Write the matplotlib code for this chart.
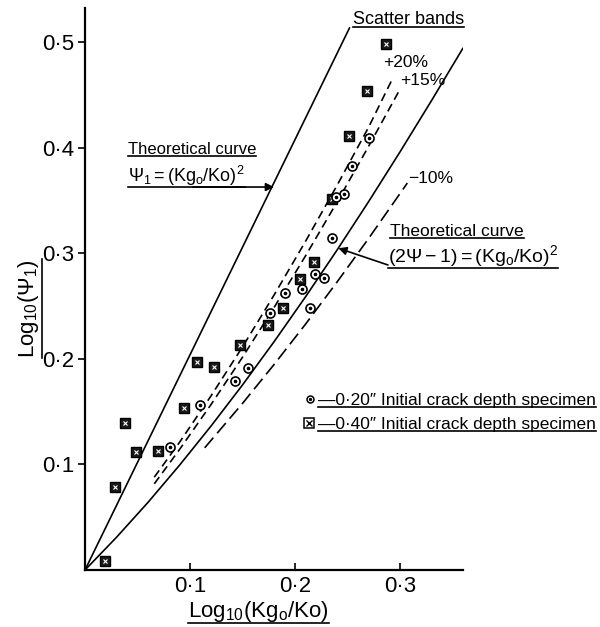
import matplotlib
matplotlib.use("Agg")
import matplotlib.pyplot as plt
from matplotlib.lines import Line2D

plt.rcParams['font.family'] = ['Liberation Sans Narrow', 'Liberation Sans', 'DejaVu Sans']
plt.rcParams['mathtext.fontset'] = 'custom'
plt.rcParams['mathtext.rm'] = 'Liberation Sans'
plt.rcParams['mathtext.it'] = 'Liberation Sans'

# ---------------- data ----------------
# 0.40" initial crack depth specimens (squares)
sq_x = [0.2867, 0.2686, 0.2514, 0.2352, 0.2181, 0.2048, 0.1886, 0.1743, 0.1476,
        0.1067, 0.1229, 0.0943, 0.0381, 0.0486, 0.0695, 0.0286, 0.0190]
sq_y = [0.4986, 0.4540, 0.4114, 0.3517, 0.2919, 0.2758, 0.2483, 0.2322, 0.2133,
        0.1972, 0.1924, 0.1536, 0.1393, 0.1118, 0.1128, 0.0787, 0.0085]
# 0.20" initial crack depth specimens (circles)
ci_x = [0.2705, 0.2543, 0.2467, 0.2390, 0.2352, 0.2190, 0.2276, 0.2067, 0.1905,
        0.2143, 0.1762, 0.1552, 0.1429, 0.1095, 0.0810]
ci_y = [0.4095, 0.3829, 0.3564, 0.3536, 0.3147, 0.2806, 0.2768, 0.2664, 0.2626,
        0.2483, 0.2436, 0.1915, 0.1791, 0.1564, 0.1166]

# theoretical curve psi1 = (Kg0/Ko)^2
th1_x = [0.0, 0.252]
th1_y = [0.0, 0.514]
# theoretical curve (2psi-1) = (Kg0/Ko)^2
th2_x = [0.0, 0.03, 0.06, 0.09, 0.12, 0.15, 0.18, 0.21, 0.24, 0.27, 0.30, 0.33, 0.36]
th2_y = [0.0, 0.0310, 0.0641, 0.0993, 0.1364, 0.1754, 0.2163, 0.2589, 0.3032,
         0.3490, 0.3963, 0.4449, 0.4947]
# scatter bands
p20_x = [0.066, 0.09, 0.12, 0.15, 0.18, 0.21, 0.24, 0.27, 0.293]
p20_y = [0.0880, 0.1210, 0.1650, 0.2115, 0.2605, 0.3115, 0.3645, 0.4195, 0.4660]
p15_x = [0.066, 0.09, 0.12, 0.15, 0.18, 0.21, 0.24, 0.27, 0.300]
p15_y = [0.0817, 0.1142, 0.1568, 0.2017, 0.2487, 0.2977, 0.3487, 0.4014, 0.4557]
m10_x = [0.114, 0.15, 0.18, 0.21, 0.24, 0.27, 0.307]
m10_y = [0.1158, 0.1579, 0.1947, 0.2330, 0.2729, 0.3141, 0.3668]

x_ticks = [0.1, 0.2, 0.3]
x_tick_labels = ['0·1', '0·2', '0·3']
y_ticks = [0.1, 0.2, 0.3, 0.4, 0.5]
y_tick_labels = ['0·1', '0·2', '0·3', '0·4', '0·5']

# ---------------- figure ----------------
W, H = 600, 627
fig = plt.figure(figsize=(W / 100, H / 100), dpi=100)
fig.patch.set_facecolor('white')
ax = fig.add_axes([85 / W, 57 / H, 378 / W, 562 / H])
ax.set_xlim(0, 0.36)
ax.set_ylim(0, 0.5327)
for s in ['top', 'right']:
    ax.spines[s].set_visible(False)
for s in ['left', 'bottom']:
    ax.spines[s].set_linewidth(1.6)
ax.set_xticks(x_ticks)
ax.set_xticklabels(x_tick_labels, fontsize=16)
ax.set_yticks(y_ticks)
ax.set_yticklabels(y_tick_labels, fontsize=16)
ax.tick_params(axis='x', direction='in', length=5, width=1.2, pad=4)
ax.tick_params(axis='y', direction='out', length=5, width=1.2, pad=3)

lw = 1.2
ax.plot(th1_x, th1_y, color='black', lw=lw, solid_capstyle='round')
ax.plot(th2_x, th2_y, color='black', lw=lw, solid_capstyle='round')
ax.plot(p20_x, p20_y, color='black', lw=lw, dashes=(5, 3))
ax.plot(p15_x, p15_y, color='black', lw=lw, dashes=(5, 3))
ax.plot(m10_x, m10_y, color='black', lw=lw, dashes=(8, 3.5))

ax.plot(sq_x, sq_y, ls='none', marker='s', ms=6.5, mfc='#1a1a1a', mec='black', mew=1.0, zorder=5)
ax.plot(sq_x, sq_y, ls='none', marker='x', ms=3, mec='white', mew=0.8, zorder=6)
ax.plot(ci_x, ci_y, ls='none', marker='o', ms=6.5, mfc='white', mec='black', mew=1.2, zorder=7)
ax.plot(ci_x, ci_y, ls='none', marker='o', ms=1.6, mfc='black', mec='black', zorder=8)

# ---------------- texts ----------------
def fx(px):
    return px / W

def fy(py):
    return 1 - py / H

texts = []

def ftext(px, py, s, size=12, underline=True, rotation=0, **kw):
    t = fig.text(fx(px), fy(py), s, fontsize=size, ha='left', va='baseline',
                 rotation=rotation, rotation_mode='anchor', **kw)
    texts.append((t, underline, rotation))
    return t

ftext(353, 24, 'Scatter bands', size=13)
ftext(383, 67, '+20%', size=12.5, underline=False)
ftext(400, 85, '+15%', size=12.5, underline=False)
ftext(408, 183, '−10%', size=12.5, underline=False)
ftext(128, 154, 'Theoretical curve', size=12)
ftext(128, 182, r'$\mathregular{\Psi_1 = (Kg_o/Ko)^2}$', size=13)
ftext(390, 236, 'Theoretical curve', size=12.5)
ftext(388, 262, r'$\mathregular{(2\Psi-1)=(Kg_o/Ko)^2}$', size=14)
ftext(318, 405, '—0·20″ Initial crack depth specimen', size=12.5)
ftext(318, 429, '—0·40″ Initial crack depth specimen', size=12.5)
ftext(188, 617, r'$\mathregular{Log_{10}(Kg_o/Ko)}$', size=16)
ftext(34, 358, r'$\mathregular{Log_{10}(\Psi_1)}$', size=16, rotation=90)

# legend markers
fig.add_artist(Line2D([fx(310)], [fy(399)], ls='none', marker='o', ms=5, mfc='white',
                      mec='black', mew=1.1, transform=fig.transFigure))
fig.add_artist(Line2D([fx(310)], [fy(399)], ls='none', marker='o', ms=1.4, mfc='black',
                      mec='black', transform=fig.transFigure))
fig.add_artist(Line2D([fx(309)], [fy(423)], ls='none', marker='s', ms=7, mfc='white',
                      mec='black', mew=1.1, transform=fig.transFigure))
fig.add_artist(Line2D([fx(309)], [fy(423)], ls='none', marker='x', ms=5, mec='black',
                      mew=1.0, transform=fig.transFigure))

# arrows to the theoretical curves
ax.annotate('', xy=(0.1800, 0.363), xycoords='data',
            xytext=(fx(193), fy(187)), textcoords='figure fraction',
            arrowprops=dict(arrowstyle='-|>', color='black', lw=1.2,
                            mutation_scale=12, shrinkA=0, shrinkB=0))
ax.annotate('', xy=(0.2413, 0.305), xycoords='data',
            xytext=(fx(388), fy(265)), textcoords='figure fraction',
            arrowprops=dict(arrowstyle='-|>', color='black', lw=1.2,
                            mutation_scale=12, shrinkA=0, shrinkB=0))

# underlines
fig.canvas.draw()
r = fig.canvas.get_renderer()
for t, ul, rot in texts:
    if not ul:
        continue
    bb = t.get_window_extent(renderer=r)
    if rot == 0:
        y = bb.y0 + 1
        fig.add_artist(Line2D([bb.x0 / W, bb.x1 / W], [y / H, y / H], color='black',
                              lw=1.2, transform=fig.transFigure))
    else:
        x = bb.x1 + 1
        fig.add_artist(Line2D([x / W, x / W], [bb.y0 / H, bb.y1 / H], color='black',
                              lw=1.2, transform=fig.transFigure))

fig.savefig('out.png', dpi=100, facecolor='white')
